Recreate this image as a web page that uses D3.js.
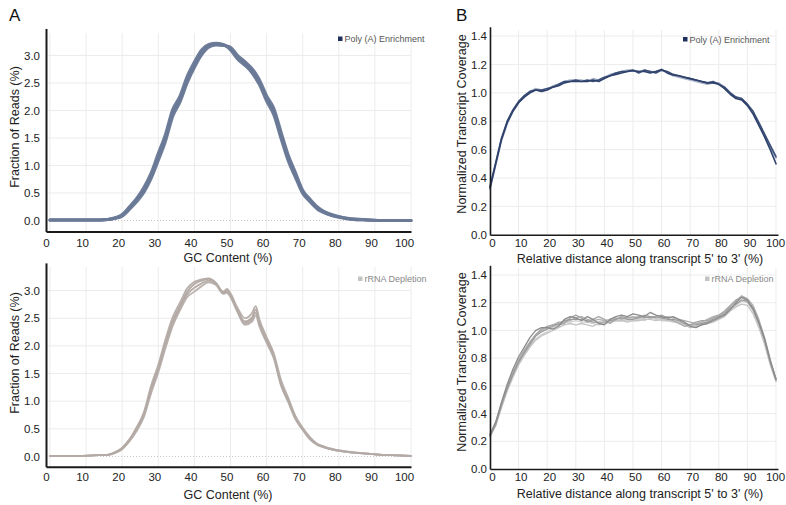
<!DOCTYPE html>
<html>
<head>
<meta charset="utf-8">
<script src="https://cdn.jsdelivr.net/npm/d3@7/dist/d3.min.js"></script>
<style>
  body { margin: 0; background: #fff; }
  text { font-family: "Liberation Sans", Arial, sans-serif; }
</style>
</head>
<body>
<div id="chart-area"></div>
<script>
// ---- data ----

// GC content (%) sample points, panel A
const gcX = [0,4,8,12,16,18,20,22,24,26,28,30,32,34,36,38,40,42,44,46,48,49,50,52,54,56,57,58,60,62,64,66,68,70,72,74,76,78,80,84,88,92,96,100];

// Poly (A) enrichment replicates, fraction of reads (%)
const polyA1 = [0.01,0.01,0.01,0.01,0.02,0.04,0.09,0.22,0.37,0.55,0.80,1.15,1.50,1.95,2.20,2.55,2.82,3.05,3.18,3.21,3.19,3.17,3.13,2.97,2.86,2.72,2.63,2.52,2.22,1.98,1.55,1.14,0.83,0.52,0.37,0.23,0.15,0.10,0.07,0.02,0.01,0.00,0.00,0.00];
const polyA2 = [0.01,0.01,0.01,0.01,0.02,0.05,0.11,0.25,0.40,0.60,0.86,1.22,1.57,2.02,2.26,2.62,2.88,3.10,3.20,3.22,3.20,3.16,3.10,2.93,2.82,2.68,2.58,2.47,2.17,1.92,1.49,1.08,0.78,0.49,0.34,0.21,0.14,0.09,0.06,0.02,0.01,0.00,0.00,0.00];
const polyA3 = [0.01,0.01,0.01,0.01,0.02,0.04,0.08,0.20,0.34,0.51,0.76,1.09,1.44,1.89,2.15,2.50,2.78,3.01,3.15,3.19,3.18,3.17,3.15,3.00,2.89,2.76,2.67,2.56,2.27,2.04,1.61,1.19,0.87,0.55,0.39,0.25,0.16,0.11,0.07,0.03,0.01,0.00,0.00,0.00];

// rRNA depletion replicates, fraction of reads (%)
const rrnaA1 = [0.01,0.01,0.01,0.02,0.03,0.07,0.14,0.29,0.50,0.76,1.22,1.60,2.05,2.45,2.72,2.98,3.12,3.18,3.21,3.13,2.96,3.00,2.92,2.64,2.44,2.52,2.66,2.42,2.11,1.82,1.33,1.02,0.70,0.50,0.33,0.22,0.17,0.13,0.11,0.07,0.05,0.03,0.02,0.01];
const rrnaA2 = [0.01,0.01,0.01,0.02,0.03,0.06,0.13,0.27,0.46,0.71,1.14,1.52,1.96,2.36,2.64,2.88,2.98,3.08,3.15,3.10,2.94,2.96,2.88,2.60,2.38,2.44,2.55,2.35,2.06,1.77,1.28,0.98,0.67,0.48,0.31,0.21,0.16,0.13,0.10,0.07,0.05,0.03,0.02,0.01];
const rrnaA3 = [0.01,0.01,0.01,0.02,0.03,0.08,0.16,0.31,0.53,0.80,1.28,1.66,2.12,2.52,2.78,3.04,3.16,3.20,3.22,3.14,2.98,3.03,2.95,2.68,2.50,2.60,2.72,2.48,2.16,1.86,1.38,1.06,0.73,0.52,0.35,0.23,0.18,0.14,0.11,0.08,0.05,0.03,0.02,0.01];
const rrnaA4 = [0.01,0.01,0.01,0.02,0.03,0.07,0.15,0.30,0.48,0.74,1.18,1.57,2.00,2.40,2.68,2.93,3.05,3.13,3.18,3.12,2.97,2.98,2.90,2.62,2.41,2.48,2.60,2.39,2.09,1.80,1.30,1.00,0.69,0.49,0.32,0.22,0.17,0.13,0.10,0.07,0.05,0.03,0.02,0.01];

// relative distance along transcript (%), panel B
const covX = [0,2,4,6,8,10,12,14,16,18,20,22,24,26,28,30,32,34,36,38,40,42,44,46,48,50,52,54,56,58,60,62,64,66,68,70,72,74,76,78,80,82,84,86,88,90,92,94,96,98,100];

// Poly (A) enrichment, normalized coverage
const polyB1 = [0.33,0.50,0.67,0.79,0.87,0.93,0.97,1.00,1.02,1.01,1.02,1.04,1.05,1.07,1.08,1.08,1.08,1.08,1.09,1.08,1.10,1.12,1.13,1.14,1.15,1.155,1.15,1.15,1.14,1.15,1.165,1.14,1.125,1.12,1.11,1.10,1.09,1.08,1.07,1.07,1.06,1.03,0.99,0.96,0.95,0.91,0.85,0.77,0.69,0.60,0.50];
const polyB2 = [0.34,0.51,0.68,0.80,0.88,0.94,0.98,1.01,1.02,1.02,1.03,1.04,1.06,1.08,1.08,1.09,1.08,1.09,1.08,1.09,1.11,1.12,1.14,1.15,1.15,1.16,1.14,1.16,1.15,1.14,1.16,1.15,1.13,1.12,1.11,1.10,1.09,1.08,1.07,1.08,1.06,1.04,1.00,0.97,0.96,0.92,0.87,0.79,0.71,0.63,0.55];
const polyB3 = [0.32,0.49,0.66,0.78,0.87,0.93,0.98,1.01,1.03,1.02,1.02,1.05,1.06,1.08,1.09,1.09,1.09,1.08,1.10,1.09,1.11,1.13,1.14,1.15,1.16,1.16,1.15,1.16,1.15,1.15,1.16,1.14,1.12,1.11,1.10,1.09,1.08,1.07,1.06,1.07,1.07,1.04,1.00,0.97,0.96,0.92,0.86,0.79,0.71,0.62,0.54];

// rRNA depletion, normalized coverage
const rrnaB1 = [0.24,0.32,0.46,0.58,0.68,0.77,0.84,0.90,0.96,0.99,1.01,1.03,1.05,1.07,1.08,1.08,1.08,1.07,1.06,1.06,1.06,1.07,1.08,1.09,1.08,1.08,1.09,1.09,1.10,1.09,1.09,1.08,1.08,1.07,1.05,1.04,1.04,1.05,1.06,1.08,1.10,1.12,1.16,1.19,1.22,1.21,1.15,1.05,0.93,0.77,0.64];
const rrnaB2 = [0.25,0.34,0.48,0.61,0.72,0.81,0.88,0.95,1.00,1.02,1.02,1.01,1.03,1.08,1.10,1.09,1.07,1.10,1.08,1.05,1.04,1.08,1.10,1.11,1.10,1.12,1.11,1.10,1.13,1.11,1.10,1.09,1.10,1.08,1.06,1.03,1.02,1.04,1.05,1.07,1.09,1.11,1.15,1.20,1.24,1.22,1.16,1.06,0.94,0.78,0.65];
const rrnaB3 = [0.23,0.31,0.44,0.56,0.66,0.75,0.82,0.88,0.93,0.96,0.98,1.00,1.02,1.04,1.05,1.04,1.05,1.04,1.03,1.05,1.05,1.06,1.07,1.07,1.06,1.07,1.07,1.08,1.08,1.07,1.08,1.07,1.07,1.06,1.04,1.02,1.03,1.04,1.05,1.06,1.08,1.10,1.14,1.17,1.19,1.18,1.12,1.02,0.90,0.75,0.63];
const rrnaB4 = [0.24,0.33,0.47,0.60,0.70,0.79,0.86,0.92,0.97,1.00,1.02,1.04,1.06,1.06,1.07,1.09,1.10,1.08,1.07,1.08,1.07,1.08,1.09,1.08,1.09,1.10,1.09,1.11,1.10,1.10,1.09,1.10,1.09,1.08,1.07,1.06,1.05,1.06,1.08,1.10,1.11,1.13,1.17,1.21,1.25,1.23,1.18,1.08,0.95,0.79,0.65];
const rrnaB5 = [0.25,0.32,0.45,0.57,0.67,0.76,0.83,0.89,0.94,0.97,0.99,1.02,1.04,1.06,1.06,1.07,1.06,1.06,1.05,1.04,1.05,1.06,1.07,1.07,1.07,1.07,1.08,1.07,1.09,1.08,1.07,1.07,1.06,1.06,1.04,1.03,1.03,1.04,1.06,1.07,1.09,1.11,1.15,1.18,1.21,1.20,1.14,1.04,0.92,0.76,0.64];
const rrnaB6 = [0.24,0.33,0.47,0.59,0.69,0.78,0.85,0.91,0.97,1.01,1.03,1.04,1.04,1.05,1.09,1.11,1.09,1.06,1.08,1.10,1.08,1.05,1.08,1.10,1.09,1.09,1.10,1.10,1.09,1.10,1.11,1.09,1.07,1.05,1.03,1.04,1.06,1.07,1.07,1.09,1.11,1.14,1.18,1.22,1.24,1.21,1.16,1.06,0.94,0.78,0.65];

// tick values
const xTicks = [0,10,20,30,40,50,60,70,80,90,100];
const gcTicks = [0,0.5,1.0,1.5,2.0,2.5,3.0];
const covTicks = [0,0.2,0.4,0.6,0.8,1.0,1.2,1.4];

// ---- drawing ----
const svg = d3.select("#chart-area").append("svg")
    .attr("width", 786)
    .attr("height", 505);

function drawPanel(p) {
    const g = svg.append("g");

    const x = d3.scaleLinear().domain(p.xDomain).range(p.xRange);
    const y = d3.scaleLinear().domain(p.yDomain).range(p.yRange);
    const bottom = p.yRange[0];

    // vertical gridlines
    g.append("g").selectAll("line")
        .data(xTicks)
        .join("line")
        .attr("x1", d => x(d)).attr("x2", d => x(d))
        .attr("y1", p.gridTop).attr("y2", bottom)
        .attr("stroke", "#ececec");

    // horizontal gridlines
    g.append("g").selectAll("line")
        .data(p.yTicks.filter(d => d > 0))
        .join("line")
        .attr("x1", p.xRange[0]).attr("x2", x(100))
        .attr("y1", d => y(d)).attr("y2", d => y(d))
        .attr("stroke", "#ececec");

    // dotted zero line (panel A only)
    if (p.zeroLine) {
        g.append("line")
            .attr("x1", p.xRange[0]).attr("x2", x(100))
            .attr("y1", y(0)).attr("y2", y(0))
            .attr("stroke", "#c4c4c4")
            .attr("stroke-dasharray", "1,2");
    }

    // series
    const line = d3.line()
        .x((d, i) => x(p.xs[i]))
        .y(d => y(d))
        .curve(p.curve);

    p.series.forEach(s => {
        g.append("path")
            .datum(s.values)
            .attr("fill", "none")
            .attr("stroke", s.color)
            .attr("stroke-width", s.width)
            .attr("stroke-linejoin", "round")
            .attr("stroke-linecap", "round")
            .attr("d", line);
    });

    // axes
    const xAxis = g.append("g")
        .attr("transform", `translate(0,${bottom})`)
        .call(d3.axisBottom(x).tickValues(xTicks).tickSize(0).tickSizeOuter(0).tickPadding(p.xPad).tickFormat(d3.format("d")));
    xAxis.selectAll("text").attr("dx", d => d === 100 ? p.xLabelShift - 3 : p.xLabelShift);

    const yAxis = g.append("g")
        .attr("transform", `translate(${p.xRange[0]},0)`)
        .call(d3.axisLeft(y).tickValues(p.yTicks).tickSize(0).tickSizeOuter(0).tickPadding(p.yPad).tickFormat(d3.format(".1f")));

    [xAxis, yAxis].forEach(a => {
        a.attr("font-family", null).attr("font-size", null);
        a.select(".domain").attr("stroke", "#1a1a1a").attr("stroke-width", p.axisWidth);
        a.selectAll("text").attr("fill", "#222").style("font-size", "11.5px");
    });

    // axis titles
    g.append("text")
        .attr("x", p.xTitle[0])
        .attr("y", p.xTitle[1])
        .attr("text-anchor", "middle")
        .attr("fill", "#222")
        .style("font-size", "12.5px")
        .text(p.xLabel);

    g.append("text")
        .attr("transform", `translate(${p.yTitle[0]},${p.yTitle[1]}) rotate(-90)`)
        .attr("text-anchor", "middle")
        .attr("fill", "#222")
        .style("font-size", "12.5px")
        .text(p.yLabel);

    // legend
    g.append("rect")
        .attr("x", p.legend[0])
        .attr("y", p.legend[1] - 5.5)
        .attr("width", 4.5)
        .attr("height", 4.5)
        .attr("fill", p.legendColor);

    g.append("text")
        .attr("x", p.legend[0] + 6.5)
        .attr("y", p.legend[1])
        .attr("fill", p.legendText)
        .style("font-size", "9px")
        .text(p.legendLabel);
}

// panel A, top
drawPanel({
    xs: gcX, xDomain: [-1.1, 100], xRange: [46, 411],
    yDomain: [-0.2, 3.49], yRange: [231.5, 28.5], yTicks: gcTicks,
    gridTop: 33, zeroLine: true, axisWidth: 2, yPad: 6, xPad: 7, xLabelShift: -4,
    curve: d3.curveMonotoneX,
    series: [
        {values: polyA2, color: "#6f7e9b", width: 3},
        {values: polyA3, color: "#6f7e9b", width: 3},
        {values: polyA1, color: "#6a7996", width: 3}
    ],
    xLabel: "GC Content (%)", xTitle: [228, 262],
    yLabel: "Fraction of Reads (%)", yTitle: [19, 127],
    legend: [338, 42], legendColor: "#1e2f5c", legendText: "#555", legendLabel: "Poly (A) Enrichment"
});

// panel A, bottom
drawPanel({
    xs: gcX, xDomain: [-1.1, 100], xRange: [46, 411],
    yDomain: [-0.185, 3.5], yRange: [466.7, 262.9], yTicks: gcTicks,
    gridTop: 267, zeroLine: true, axisWidth: 2, yPad: 6, xPad: 6, xLabelShift: -4,
    curve: d3.curveMonotoneX,
    series: [
        {values: rrnaA2, color: "#bbb3af", width: 1.8},
        {values: rrnaA3, color: "#b9b0ac", width: 1.8},
        {values: rrnaA4, color: "#b6ada9", width: 1.8},
        {values: rrnaA1, color: "#b3aaa6", width: 1.8}
    ],
    xLabel: "GC Content (%)", xTitle: [228, 499],
    yLabel: "Fraction of Reads (%)", yTitle: [19, 353],
    legend: [358, 282], legendColor: "#c4c4c4", legendText: "#888", legendLabel: "rRNA Depletion"
});

// panel B, top
drawPanel({
    xs: covX, xDomain: [0, 100.7], xRange: [490, 778],
    yDomain: [0, 1.465], yRange: [234.8, 26.8], yTicks: covTicks,
    gridTop: 30, zeroLine: false, axisWidth: 1.6, yPad: 3, xPad: 4, xLabelShift: 2,
    curve: d3.curveLinear,
    series: [
        {values: polyB3, color: "#a9b3c7", width: 1.6},
        {values: polyB2, color: "#3c4f78", width: 1.6},
        {values: polyB1, color: "#2e416b", width: 1.6}
    ],
    xLabel: "Relative distance along transcript 5' to 3' (%)", xTitle: [640, 263],
    yLabel: "Normalized Transcript Coverage", yTitle: [466, 124],
    legend: [683, 42.5], legendColor: "#1e2f5c", legendText: "#555", legendLabel: "Poly (A) Enrichment"
});

// panel B, bottom
drawPanel({
    xs: covX, xDomain: [0, 100.7], xRange: [490, 778],
    yDomain: [0, 1.47], yRange: [469, 265.3], yTicks: covTicks,
    gridTop: 268, zeroLine: false, axisWidth: 1.6, yPad: 3, xPad: 4, xLabelShift: 2,
    curve: d3.curveLinear,
    series: [
        {values: rrnaB5, color: "#d0d0d0", width: 1.3},
        {values: rrnaB3, color: "#c4c4c4", width: 1.3},
        {values: rrnaB4, color: "#b0b0b0", width: 1.3},
        {values: rrnaB6, color: "#a6a6a6", width: 1.3},
        {values: rrnaB1, color: "#9a9a9a", width: 1.3},
        {values: rrnaB2, color: "#8c8c8c", width: 1.3}
    ],
    xLabel: "Relative distance along transcript 5' to 3' (%)", xTitle: [640, 498],
    yLabel: "Normalized Transcript Coverage", yTitle: [466, 362],
    legend: [705, 282], legendColor: "#c4c4c4", legendText: "#888", legendLabel: "rRNA Depletion"
});

// panel letters
svg.append("text").attr("x", 9).attr("y", 21).style("font-size", "17px").attr("fill", "#111").text("A");
svg.append("text").attr("x", 456).attr("y", 21).style("font-size", "17px").attr("fill", "#111").text("B");
</script>
</body>
</html>
